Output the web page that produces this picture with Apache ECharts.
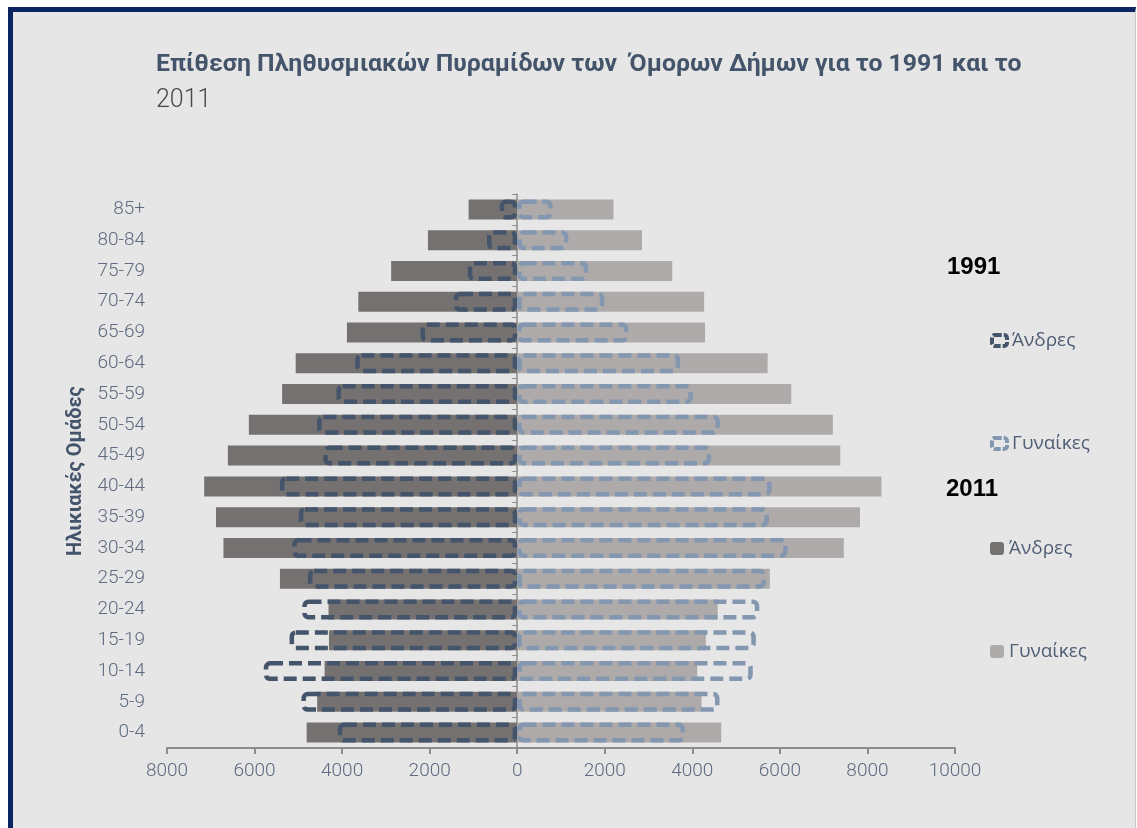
<!DOCTYPE html>
<html>
<head>
<meta charset="utf-8">
<script src="https://cdn.jsdelivr.net/npm/echarts@6/dist/echarts.min.js"></script>
<style>
  html, body { margin: 0; padding: 0; background: #ffffff; overflow: hidden; }
  #frame {
    position: absolute; left: 8px; top: 7px; width: 1122px; height: 840px;
    background: #e6e6e6;
    border-left: 5px solid #0b2462; border-top: 5px solid #0b2462;
    border-right: 1px solid #c9c9c9;
  }
  #chart { position: absolute; left: 0; top: 0; width: 1137px; height: 828px; }
</style>
</head>
<body>
<div id="frame"></div>
<div id="chart"></div>
<script>
// Age groups, bottom to top
const ageGroups = ['0-4', '5-9', '10-14', '15-19', '20-24', '25-29', '30-34', '35-39', '40-44',
                   '45-49', '50-54', '55-59', '60-64', '65-69', '70-74', '75-79', '80-84', '85+'];

// 2011 population
const men2011   = [4810, 4570, 4400, 4300, 4310, 5420, 6710, 6880, 7150, 6610, 6130, 5370, 5060, 3890, 3630, 2880, 2040, 1110];
const women2011 = [4660, 4210, 4110, 4310, 4580, 5770, 7460, 7830, 8320, 7380, 7210, 6260, 5720, 4290, 4270, 3540, 2850, 2200];

// 1991 population
const men1991   = [4100, 4930, 5790, 5200, 4910, 4780, 5140, 4990, 5420, 4430, 4570, 4130, 3700, 2210, 1450, 1130, 690, 400];
const women1991 = [3830, 4620, 5380, 5450, 5530, 5680, 6180, 5750, 5810, 4430, 4630, 4010, 3720, 2540, 1990, 1620, 1170, 810];

// x-axis ticks
const axisMin = -8000, axisMax = 10000, axisStep = 2000;

const labelFont = '"Roboto", sans-serif';
const labelColor = '#5e6a80';

const dashed1991 = (color) => ({
  color: 'rgba(0,0,0,0)',
  borderColor: color,
  borderWidth: 4.5,
  borderType: [13, 6],
  borderRadius: 4
});

const chart = echarts.init(document.getElementById('chart'));

const legendText = { fontFamily: '"Open Sans", "Noto Sans", sans-serif', fontSize: 19, color: '#4f5d75' };
const makeLegend = (name, top, itemStyle, w, h) => ({
  left: 985, top: top, orient: 'vertical',
  itemWidth: w, itemHeight: h, itemGap: 0,
  textStyle: legendText,
  selectedMode: false,
  formatter: (n) => n.split(' ')[0],
  data: [{ name: name, icon: 'roundRect', itemStyle: itemStyle }]
});

chart.setOption({
  backgroundColor: 'transparent',
  animation: false,
  title: {
    text: 'Επίθεση Πληθυσμιακών Πυραμίδων των  Όμορων Δήμων για το 1991 και το',
    subtext: '2011',
    left: 151, top: 47, itemGap: 11,
    textStyle: { fontFamily: labelFont, fontWeight: 'bold', fontSize: 24.8, color: '#44546a' },
    subtextStyle: { fontFamily: labelFont, fontWeight: 300, fontSize: 25, color: '#4a4a4a' }
  },
  graphic: [
    { type: 'text', left: 947, top: 255, style: { text: '1991', font: 'bold 24px "Liberation Sans", sans-serif', fill: '#000000' } },
    { type: 'text', left: 946, top: 477, style: { text: '2011', font: 'bold 24px "Liberation Sans", sans-serif', fill: '#000000' } }
  ],
  legend: [
    makeLegend('Άνδρες 1991', 326, { color: 'rgba(0,0,0,0)', borderColor: '#44546a', borderWidth: 4, borderType: [7, 2] }, 15, 11),
    makeLegend('Γυναίκες 1991', 429, { color: 'rgba(0,0,0,0)', borderColor: '#8497b0', borderWidth: 4, borderType: [7, 2] }, 15, 11),
    makeLegend('Άνδρες 2011', 534, { color: '#757171' }, 14, 13),
    makeLegend('Γυναίκες 2011', 637, { color: '#aeaaaa' }, 14, 13)
  ],
  grid: { left: 167, right: 182, top: 194, bottom: 80, containLabel: false },
  xAxis: {
    type: 'value',
    min: axisMin, max: axisMax, interval: axisStep,
    splitLine: { show: false },
    axisLine: { show: true, lineStyle: { color: '#8c8c8c', width: 2 } },
    axisTick: { show: true, length: 6, lineStyle: { color: '#8c8c8c', width: 2 } },
    axisLabel: {
      formatter: (v) => String(Math.abs(v)),
      fontFamily: labelFont, fontWeight: 300, fontSize: 19, color: labelColor, margin: 14
    }
  },
  yAxis: [
    {
      type: 'category', data: ageGroups, position: 'left',
      name: 'Ηλικιακές Ομάδες', nameLocation: 'middle', nameRotate: 90, nameGap: 80,
      nameTextStyle: { fontFamily: labelFont, fontWeight: 'bold', fontSize: 20, color: '#44546a' },
      axisLine: { show: false, onZero: false },
      axisTick: { show: false },
      axisLabel: { fontFamily: labelFont, fontWeight: 300, fontSize: 19, color: labelColor, margin: 22 }
    },
    {
      type: 'category', data: ageGroups, position: 'left',
      axisLine: { show: true, onZero: true, lineStyle: { color: '#8c8c8c', width: 1.5 } },
      axisTick: { show: true, length: 5, lineStyle: { color: '#8c8c8c' } },
      axisLabel: { show: false }
    }
  ],
  series: [
    {
      name: 'Άνδρες 2011', type: 'bar', stack: 'y2011', barWidth: 20, barGap: '-100%',
      data: men2011.map(v => -v), itemStyle: { color: '#757171' }
    },
    {
      name: 'Γυναίκες 2011', type: 'bar', stack: 'y2011', barWidth: 20, barGap: '-100%',
      data: women2011, itemStyle: { color: '#aeaaaa' }
    },
    {
      name: 'Άνδρες 1991', type: 'bar', stack: 'y1991', barWidth: 20, barGap: '-100%',
      data: men1991.map(v => -v), itemStyle: dashed1991('#44546a'), z: 3
    },
    {
      name: 'Γυναίκες 1991', type: 'bar', stack: 'y1991', barWidth: 20, barGap: '-100%',
      data: women1991, itemStyle: dashed1991('#8497b0'), z: 3
    }
  ]
});
</script>
</body>
</html>
